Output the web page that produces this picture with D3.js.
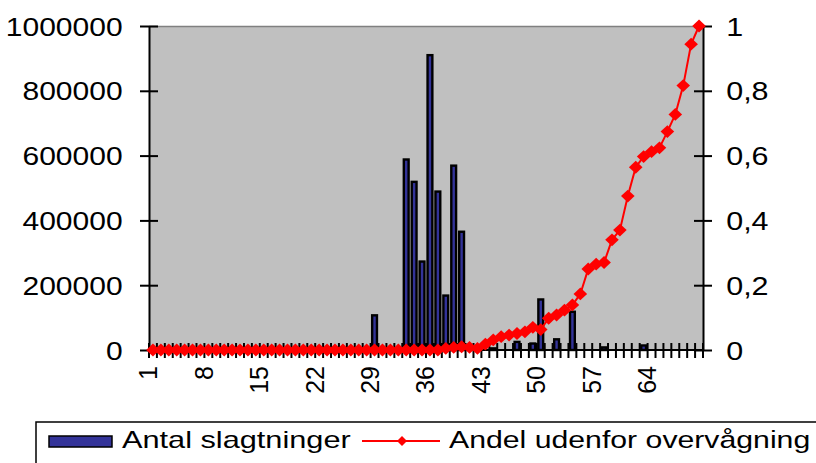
<!DOCTYPE html>
<html>
<head>
<meta charset="utf-8">
<script src="https://cdn.jsdelivr.net/npm/d3@7"></script>
<style>
  html, body { margin: 0; padding: 0; background: #fff; }
  svg { display: block; font-family: "Liberation Sans", Arial, sans-serif; }
</style>
</head>
<body>
<svg id="chart" width="816" height="463"></svg>
<script>
// ---- data ----
const categories = d3.range(1, 71);
const slaughterCounts = [
  0,0,0,0,0,0,0,0,0,0,            // 1-10
  0,0,0,0,0,0,0,0,0,0,            // 11-20
  0,0,0,0,0,0,0,0,107000,0,       // 21-30
  0,0,588000,519000,273000,910000,489000,168000,569000,365000, // 31-40
  0,0,0,5000,0,0,25000,0,20000,156000,   // 41-50
  0,33000,0,118000,0,0,0,8000,0,0,       // 51-60
  0,0,14000,0,0,0,0,0,0,0                // 61-70
];
const shareOutside = [
  0,0,0,0,0,0,0,0,0,0,
  0,0,0,0,0,0,0,0,0,0,
  0,0,0,0,0,0,0,0,0,0,
  0,0,0,0,0,0,0,0.005,0.008,0.01,
  0.008,0.005,0.018,0.031,0.041,0.046,0.051,0.056,0.07,0.063,
  0.098,0.108,0.123,0.139,0.173,0.25,0.265,0.27,0.34,0.37,
  0.475,0.564,0.597,0.612,0.624,0.674,0.727,0.816,0.944,1
];
const leftTicks = [0, 200000, 400000, 600000, 800000, 1000000];
const rightTicks = [0, 0.2, 0.4, 0.6, 0.8, 1];
const xTickLabels = [1, 8, 15, 22, 29, 36, 43, 50, 57, 64];
const legendLabels = ["Antal slagtninger", "Andel udenfor overvågning"];

// ---- layout ----
const L = 149, R = 703, T = 26, B = 350;
const svg = d3.select("#chart");
const FONT = 25;

const x = d3.scaleBand().domain(categories).range([L, R]).paddingInner(0).paddingOuter(0);
const yL = d3.scaleLinear().domain([0, 1000000]).range([B, T]);
const yR = d3.scaleLinear().domain([0, 1]).range([B, T]);

// plot background
svg.append("rect").attr("x", L).attr("y", T).attr("width", R - L).attr("height", B - T)
  .attr("fill", "#C0C0C0");
svg.append("line").attr("x1", L).attr("x2", R).attr("y1", T + 0.5).attr("y2", T + 0.5)
  .attr("stroke", "#808080").attr("stroke-width", 1.5);

// bars
const bw = 4.8;
svg.append("g").selectAll("rect").data(categories).join("rect")
  .attr("x", (c) => x(c) + x.bandwidth() / 2 - bw / 2)
  .attr("y", (c, i) => yL(slaughterCounts[i]))
  .attr("width", bw)
  .attr("height", (c, i) => B - yL(slaughterCounts[i]))
  .attr("fill", "#333399")
  .attr("stroke", "#000")
  .attr("stroke-width", (c, i) => slaughterCounts[i] > 0 ? 2.4 : 0);

// left axis
const gL = svg.append("g").attr("transform", `translate(${L},0)`)
  .call(d3.axisLeft(yL).tickValues(leftTicks).tickFormat(d3.format("d")).tickSize(9).tickSizeOuter(0));
gL.select(".domain").attr("stroke", "#000").attr("stroke-width", 2);
gL.selectAll(".tick line").attr("x1", 9).attr("stroke", "#000").attr("stroke-width", 2);
gL.selectAll(".tick text").attr("x", -22).attr("dy", "0.36em")
  .attr("transform", "scale(1.2,1)")
  .style("font-size", FONT + "px").attr("fill", "#000").attr("font-family", null);

// right axis
const fmtR = (d) => (d === 0 ? "0" : d === 1 ? "1" : String(+d.toFixed(1)).replace(".", ","));
const gR = svg.append("g").attr("transform", `translate(${R},0)`)
  .call(d3.axisRight(yR).tickValues(rightTicks).tickFormat(fmtR).tickSize(9).tickSizeOuter(0));
gR.select(".domain").attr("stroke", "#000").attr("stroke-width", 2);
gR.selectAll(".tick line").attr("x1", -9).attr("stroke", "#000").attr("stroke-width", 2);
gR.selectAll(".tick text").attr("x", 19).attr("dy", "0.36em")
  .attr("transform", "scale(1.22,1)")
  .style("font-size", FONT + "px").attr("fill", "#000").attr("font-family", null);

// bottom axis: line + cross ticks between categories
const gB = svg.append("g");
gB.append("line").attr("x1", L).attr("x2", R).attr("y1", B).attr("y2", B)
  .attr("stroke", "#000").attr("stroke-width", 2);
const boundaries = d3.range(0, categories.length + 1).map((i) => x.range()[0] + i * x.step());
gB.selectAll("line.tk").data(boundaries).join("line").attr("class", "tk")
  .attr("x1", (d) => d).attr("x2", (d) => d).attr("y1", B - 7).attr("y2", B + 8)
  .attr("stroke", "#000").attr("stroke-width", 2);
gB.selectAll("text").data(xTickLabels).join("text")
  .attr("transform", (d) => `translate(${x(d) + x.bandwidth() / 2},${B}) rotate(-90)`)
  .attr("x", -16).attr("dy", 4.5)
  .attr("text-anchor", "end")
  .style("font-size", FONT + "px").attr("fill", "#000")
  .text((d) => d);

// line series
const cx = (c) => x(c) + x.bandwidth() / 2;
const line = d3.line().x((d) => cx(d[0])).y((d) => yR(d[1]));
const pts = categories.map((c, i) => [c, shareOutside[i]]);
svg.append("path").datum(pts).attr("d", line)
  .attr("fill", "none").attr("stroke", "#FF0000").attr("stroke-width", 2);
const diamond = "M0,-6.4L6.8,0L0,6.4L-6.8,0Z";
svg.append("g").selectAll("path").data(pts).join("path")
  .attr("transform", (d) => `translate(${cx(d[0])},${yR(d[1])})`)
  .attr("d", diamond).attr("fill", "#FF0000");

// legend
const lg = svg.append("g");
lg.append("rect").attr("x", 36).attr("y", 422).attr("width", 820).attr("height", 80)
  .attr("fill", "#fff").attr("stroke", "#000").attr("stroke-width", 1.5);
lg.append("rect").attr("x", 49).attr("y", 436).attr("width", 63).attr("height", 11)
  .attr("fill", "#333399").attr("stroke", "#000").attr("stroke-width", 1.5);
lg.append("text").attr("transform", "translate(122,448) scale(1.28,1)")
  .style("font-size", "24px").attr("fill", "#000").text(legendLabels[0]);
lg.append("line").attr("x1", 362).attr("x2", 440).attr("y1", 441).attr("y2", 441)
  .attr("stroke", "#FF0000").attr("stroke-width", 2);
lg.append("path").attr("transform", "translate(402,441)").attr("d", "M0,-5L5,0L0,5L-5,0Z")
  .attr("fill", "#FF0000");
lg.append("text").attr("transform", "translate(449,448) scale(1.26,1)")
  .style("font-size", "24px").attr("fill", "#000").text(legendLabels[1]);
</script>
</body>
</html>
